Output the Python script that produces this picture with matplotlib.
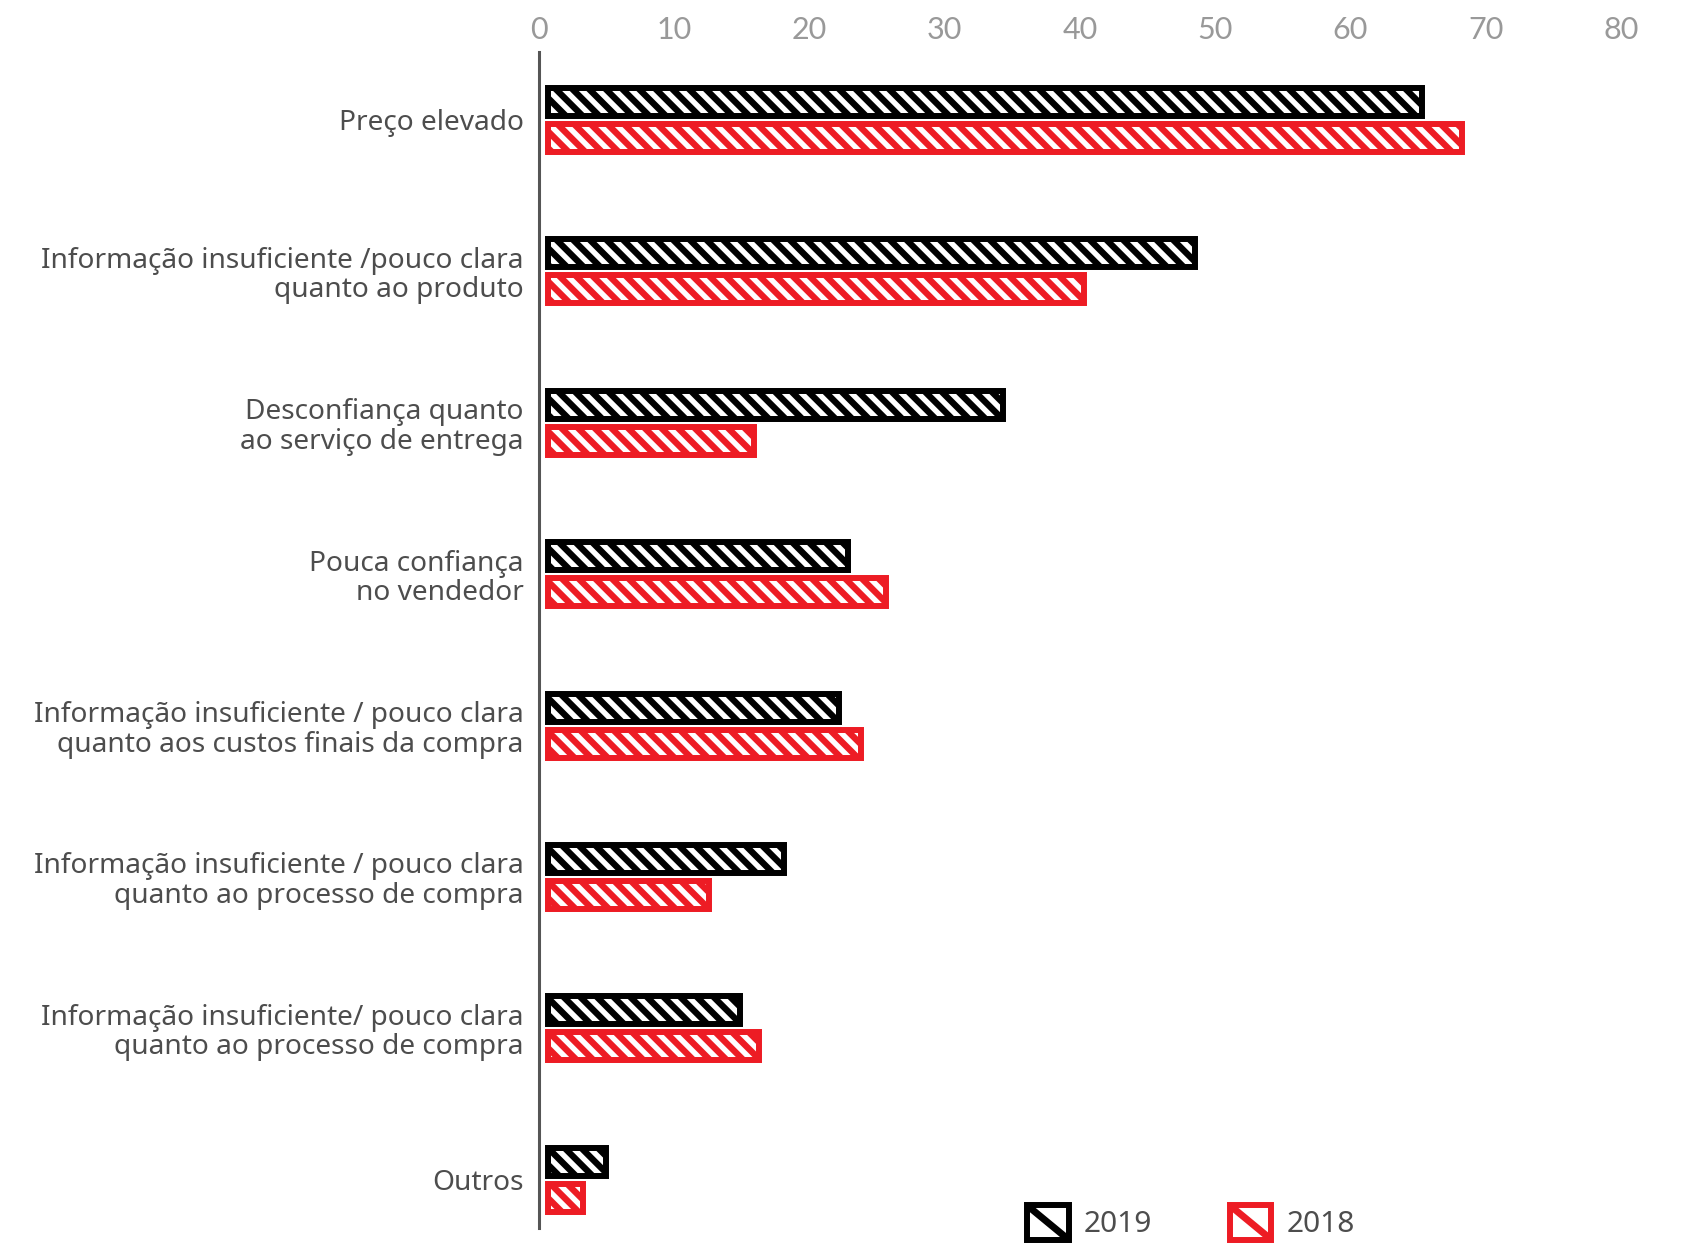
import numpy as np
import matplotlib
matplotlib.use("Agg")
import matplotlib.pyplot as plt
from matplotlib.patches import Rectangle, Patch
from matplotlib.lines import Line2D

categorias = [
    "Preço elevado",
    "Informação insuficiente /pouco clara\nquanto ao produto",
    "Desconfiança quanto\nao serviço de entrega",
    "Pouca confiança\nno vendedor",
    "Informação insuficiente / pouco clara\nquanto aos custos finais da compra",
    "Informação insuficiente / pouco clara\nquanto ao processo de compra",
    "Informação insuficiente/ pouco clara\nquanto ao processo de compra",
    "Outros",
]
valores_2019 = [65.5, 48.7, 34.5, 23.1, 22.4, 18.3, 15.1, 5.2]
valores_2018 = [68.5, 40.5, 16.1, 25.9, 24.0, 12.8, 16.5, 3.5]
anos = ["2019", "2018"]
ticks_x = [0, 10, 20, 30, 40, 50, 60, 70, 80]

preto = "#000000"
vermelho = "#ED1C24"
cinza_texto = "#4D4D4D"

plt.rcParams["hatch.linewidth"] = 4.6


class QuadradoDiagonal:
    # legend handle: outlined square crossed by one diagonal
    def legend_artist(self, legend, orig_handle, fontsize, handlebox):
        x0, y0 = -handlebox.xdescent, -handlebox.ydescent
        w, h = handlebox.width, handlebox.height
        cor = orig_handle.get_edgecolor()
        tr = handlebox.get_transform()
        quad = Rectangle((x0, y0), w, h, facecolor="white", edgecolor=cor,
                         lw=4.3, transform=tr)
        diag = Line2D([x0, x0 + w], [y0 + h, y0], color=cor, lw=5,
                      solid_capstyle="butt", transform=tr)
        diag.set_clip_path(quad)
        handlebox.add_artist(quad)
        handlebox.add_artist(diag)
        return quad


fig = plt.figure(figsize=(16.86, 12.43), dpi=100)
ax = fig.add_axes([0.3197, 0.0121, 0.6417, 0.9461])

y = np.arange(len(categorias))
inicio = 0.67
meia_borda = 0.22
desloc = 0.119
altura = 0.185

ax.barh(y - desloc, np.array(valores_2019) - inicio - meia_borda, left=inicio,
        height=altura, facecolor="white", edgecolor=preto, linewidth=4.3,
        hatch="\\\\")
ax.barh(y + desloc, np.array(valores_2018) - inicio - meia_borda, left=inicio,
        height=altura, facecolor="white", edgecolor=vermelho, linewidth=4.3,
        hatch="\\\\")

ax.set_xlim(0, 80)
ax.set_ylim(7.318, -0.449)

ax.xaxis.tick_top()
ax.set_xticks(ticks_x)
ax.set_xticklabels([str(t) for t in ticks_x], fontsize=22, color="#999999",
                   family=["Lato", "DejaVu Sans"], fontweight="normal")
ax.tick_params(axis="x", length=0, pad=6)

ax.set_yticks(y)
ax.set_yticklabels(categorias, fontsize=20.2, color=cinza_texto,
                   family=["Noto Sans", "DejaVu Sans"], linespacing=1.07)
ax.tick_params(axis="y", length=0, pad=11)

for lado in ["top", "right", "bottom"]:
    ax.spines[lado].set_visible(False)
ax.spines["left"].set_color("#555555")
ax.spines["left"].set_linewidth(2.2)

handles = [Patch(edgecolor=preto, facecolor="white"),
           Patch(edgecolor=vermelho, facecolor="white")]
leg = fig.legend(handles, anos, handler_map={Patch: QuadradoDiagonal()},
                 loc="center left", bbox_to_anchor=(0.6091, 0.0165),
                 ncol=2, frameon=False, borderpad=0, borderaxespad=0,
                 handlelength=1.4, handleheight=1.4, handletextpad=0.5,
                 columnspacing=2.6,
                 prop={"family": ["Noto Sans", "DejaVu Sans"], "size": 21.5})
for t in leg.get_texts():
    t.set_color(cinza_texto)

fig.savefig("out.png", dpi=100)
